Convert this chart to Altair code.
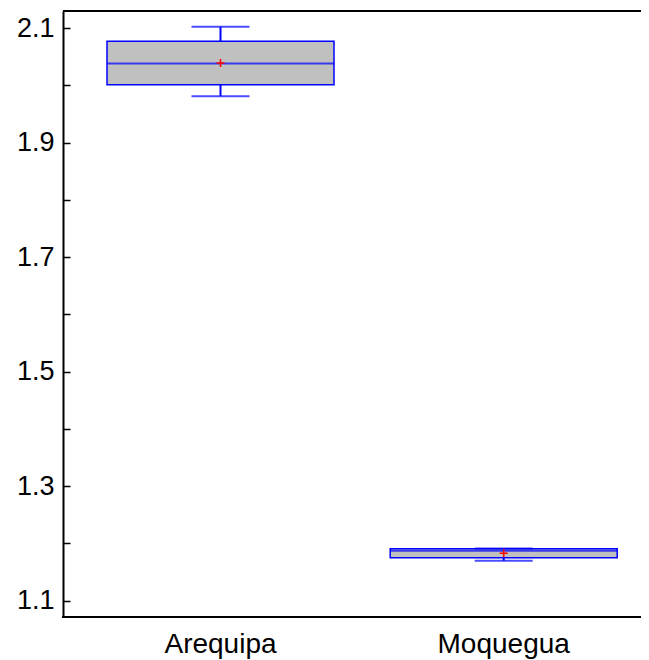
import altair as alt
import pandas as pd

categories = ["Arequipa", "Moquegua"]
mins = [1.981, 1.1698]
q1s = [2.001, 1.1751]
medians = [2.038, 1.1870]
q3s = [2.077, 1.1905]
maxs = [2.102, 1.1910]
means = [2.039, 1.1828]

y_ticks = [round(1.1 + 0.05 * i, 2) for i in range(21)]
y_labels = [1.1, 1.3, 1.5, 1.7, 1.9, 2.1]

df = pd.DataFrame({
    "cat": categories, "min": mins, "q1": q1s, "median": medians,
    "q3": q3s, "max": maxs, "mean": means,
})

W, H = 578, 606
BLUE = "#0000FF"

xscale = alt.Scale(domain=categories, paddingInner=0, paddingOuter=0, range=[15.9, 582.3])
yscale = alt.Scale(domain=[1.0715, 2.1297], nice=False, zero=False)

label_list = "[" + ",".join(f"'{v:.1f}'" for v in y_labels) + "]"
label_expr = (f"indexof({label_list}, format(datum.value, '.2f') == format(datum.value, '.1f') + '0' "
              f"? format(datum.value, '.1f') : 'x') >= 0 ? format(datum.value, '.1f') : ''")

xaxis = alt.Axis(title=None, ticks=False, domain=False,
                 labelFontSize=28, labelFont="Liberation Sans", labelColor="black",
                 labelPadding=13, labelAngle=0, grid=False)
yaxis = alt.Axis(title=None, values=y_ticks, labelExpr=label_expr,
                 tickSize=alt.ExprRef("-7"), tickColor="black", tickWidth=1.5,
                 domainColor="black", domainWidth=2, grid=False,
                 labelFontSize=27, labelFont="Liberation Sans", labelColor="black",
                 labelPadding=16)

base = alt.Chart(df)

box = base.mark_bar(size=227, fill="#C0C0C0", stroke=BLUE, strokeWidth=1.5).encode(
    x=alt.X("cat:N", scale=xscale, axis=xaxis, sort=categories),
    y=alt.Y("q1:Q", scale=yscale, axis=yaxis),
    y2="q3:Q",
)
whisk_hi = base.mark_rule(color=BLUE, strokeWidth=2).encode(
    x=alt.X("cat:N", sort=categories), y="q3:Q", y2="max:Q")
whisk_lo = base.mark_rule(color=BLUE, strokeWidth=2).encode(
    x=alt.X("cat:N", sort=categories), y="min:Q", y2="q1:Q")
cap_hi = base.mark_tick(size=58, thickness=2, color=BLUE).encode(
    x=alt.X("cat:N", sort=categories), y="max:Q")
cap_lo = base.mark_tick(size=58, thickness=2, color=BLUE).encode(
    x=alt.X("cat:N", sort=categories), y="min:Q")
med = base.mark_tick(size=227, thickness=2, color=BLUE).encode(
    x=alt.X("cat:N", sort=categories), y="median:Q")
mean = base.mark_point(shape="M-1,0H1M0,-1V1", size=64, filled=False,
                       stroke="#FF0000", strokeWidth=1.5, opacity=1).encode(
    x=alt.X("cat:N", sort=categories), y="mean:Q")
top = alt.Chart(df).mark_rule(color="black", strokeWidth=2).encode(
    x=alt.value(0), x2=alt.value(W), y=alt.value(0))
bottom = alt.Chart(df).mark_rule(color="black", strokeWidth=2).encode(
    x=alt.value(-1), x2=alt.value(W), y=alt.value(H))

chart = alt.layer(box, whisk_hi, whisk_lo, cap_hi, cap_lo, med, mean, top, bottom).properties(
    width=W, height=H,
    autosize=alt.AutoSizeParams(type="none"),
    padding={"left": 55, "top": 3, "right": 0, "bottom": 43},
).configure_view(stroke=None).configure(background="white")

chart.save("out.html", embed_options={"renderer": "svg", "actions": False})
